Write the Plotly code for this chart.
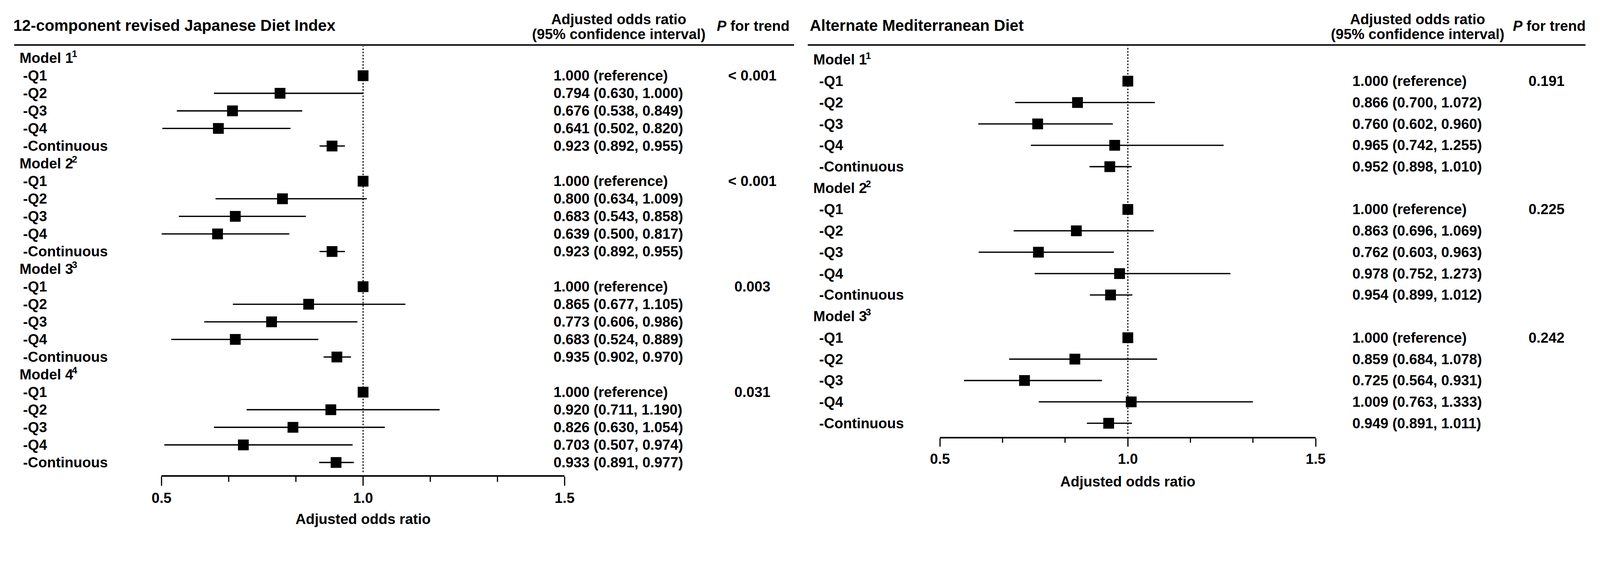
import plotly.graph_objects as go

FONT = "Liberation Sans, Arial, sans-serif"

# ---------------- data ----------------
categories = ["-Q1", "-Q2", "-Q3", "-Q4", "-Continuous"]
jdi_models = ["Model 1", "Model 2", "Model 3", "Model 4"]
med_models = ["Model 1", "Model 2", "Model 3"]
model_notes = ["1", "2", "3", "4"]

jdi_or = [1.000, 0.794, 0.676, 0.641, 0.923,
          1.000, 0.800, 0.683, 0.639, 0.923,
          1.000, 0.865, 0.773, 0.683, 0.935,
          1.000, 0.920, 0.826, 0.703, 0.933]
jdi_lo = [None, 0.630, 0.538, 0.502, 0.892,
          None, 0.634, 0.543, 0.500, 0.892,
          None, 0.677, 0.606, 0.524, 0.902,
          None, 0.711, 0.630, 0.507, 0.891]
jdi_hi = [None, 1.000, 0.849, 0.820, 0.955,
          None, 1.009, 0.858, 0.817, 0.955,
          None, 1.105, 0.986, 0.889, 0.970,
          None, 1.190, 1.054, 0.974, 0.977]
jdi_p = ["< 0.001", "< 0.001", "0.003", "0.031"]

med_or = [1.000, 0.866, 0.760, 0.965, 0.952,
          1.000, 0.863, 0.762, 0.978, 0.954,
          1.000, 0.859, 0.725, 1.009, 0.949]
med_lo = [None, 0.700, 0.602, 0.742, 0.898,
          None, 0.696, 0.603, 0.752, 0.899,
          None, 0.684, 0.564, 0.763, 0.891]
med_hi = [None, 1.072, 0.960, 1.255, 1.010,
          None, 1.069, 0.963, 1.273, 1.012,
          None, 1.078, 0.931, 1.333, 1.011]
med_p = ["0.191", "0.225", "0.242"]

x_ticks = [0.5, 1.0, 1.5]
x_tick_text = ["0.5", "1.0", "1.5"]
x_range = [0.5, 1.5]

# ---------------- geometry ----------------
# The page is photographed with a device scale of 4379/4096 and an 8px body margin;
# geometry below is measured in picture pixels and converted to CSS pixels.
S = 4379 / 4096
FW, FH = 4088, 1341


def cx(P):
    return (P / S - 8) / FW


def cy(P):
    return 1 - (P / S - 8) / FH


def sz(v):
    return v / S


panels = [
    dict(title="12-component revised Japanese Diet Index", models=jdi_models,
         orv=jdi_or, lo=jdi_lo, hi=jdi_hi, p=jdi_p, xa="x", ya="y",
         title_x=8, line_x0=11, line_x1=2173, model_x=25, cat_x=35,
         val_x=1505, hdr_x=1687, p_x=2057, ptitle_x=2060,
         dom_x0=419.5, dom_x1=1537, top=123, bottom=1300,
         row0=159, rowstep=48.1, ticklen=24.5, minorlen=14),
    dict(title="Alternate Mediterranean Diet", models=med_models,
         orv=med_or, lo=med_lo, hi=med_hi, p=med_p, xa="x2", ya="y2",
         title_x=2215, line_x0=2211, line_x1=4367, model_x=2225, cat_x=2241,
         val_x=3719, hdr_x=3901, p_x=4259, ptitle_x=4266,
         dom_x0=2577.5, dom_x1=3619, top=123, bottom=1195,
         row0=163.5, rowstep=58.5, ticklen=23, minorlen=12),
]

FS = sz(39.4)
TFS = sz(43)
SUPFS = sz(26.5)
fig = go.Figure()
annotations = []
shapes = []


def tfont(size=FS):
    return dict(size=size, color="black", family=FONT, weight="bold")


def ann(text, x, y, yr="paper", xanchor="left", size=FS, yshift=0):
    annotations.append(dict(text=text, x=x, y=y, xref="paper", yref=yr,
                            xanchor=xanchor, yanchor="middle", showarrow=False,
                            yshift=yshift, borderpad=0, font=tfont(size)))


for k, pn in enumerate(panels):
    rows_y, ors, ci_x, ci_y = [], [], [], []
    n_models = len(pn["models"])
    for m in range(n_models):
        for j in range(len(categories)):
            idx = m * len(categories) + j
            row = m * (len(categories) + 1) + 1 + j
            rows_y.append(row)
            ors.append(pn["orv"][idx])
            if pn["lo"][idx] is not None:
                ci_x += [pn["lo"][idx], pn["hi"][idx], None]
                ci_y += [row, row, None]

    fig.add_trace(go.Scatter(x=ci_x, y=ci_y, mode="lines",
                             line=dict(color="black", width=sz(3.6)),
                             xaxis=pn["xa"], yaxis=pn["ya"], cliponaxis=False,
                             showlegend=False, hoverinfo="skip"))
    fig.add_trace(go.Scatter(x=ors, y=rows_y, mode="markers",
                             marker=dict(symbol="square", size=sz(29.5), color="black",
                                         line=dict(width=0)),
                             xaxis=pn["xa"], yaxis=pn["ya"], cliponaxis=False,
                             showlegend=False))

    suffix = "" if k == 0 else "2"
    yrange = [(pn["bottom"] - pn["row0"]) / pn["rowstep"],
              (pn["top"] - pn["row0"]) / pn["rowstep"]]
    fig.update_layout(**{
        "xaxis" + suffix: dict(
            domain=[cx(pn["dom_x0"]), cx(pn["dom_x1"])], range=x_range,
            anchor="y" + suffix, showline=True, linecolor="black", linewidth=sz(4),
            ticks="outside", ticklen=sz(pn["ticklen"]), tickwidth=sz(3), tickcolor="black",
            tickvals=x_ticks, ticktext=x_tick_text, showgrid=False, zeroline=False,
            tickfont=tfont(),
            minor=dict(ticks="outside", ticklen=sz(pn["minorlen"]), tickwidth=sz(3),
                       tickcolor="black", tick0=0.5, dtick=1 / 6, showgrid=False),
            title=dict(text="Adjusted odds ratio", standoff=26, font=tfont()),
            fixedrange=True),
        "yaxis" + suffix: dict(
            domain=[cy(pn["bottom"]), cy(pn["top"])], range=yrange,
            anchor="x" + suffix, visible=False, fixedrange=True),
    })

    yref = pn["ya"]
    shapes.append(dict(type="line", xref=pn["xa"], yref=yref + " domain",
                       x0=1.0, x1=1.0, y0=0.007, y1=0.997, layer="below",
                       line=dict(color="black", width=sz(3), dash="4px,4px")))
    shapes.append(dict(type="line", xref="paper", yref="paper",
                       x0=cx(pn["line_x0"]), x1=cx(pn["line_x1"]),
                       y0=cy(pn["top"]), y1=cy(pn["top"]),
                       line=dict(color="black", width=sz(4))))

    ann(pn["title"], cx(pn["title_x"]), cy(70), size=TFS)
    ann("Adjusted odds ratio", cx(pn["hdr_x"]), cy(53), xanchor="center")
    ann("(95% confidence interval)", cx(pn["hdr_x"]), cy(94), xanchor="center")
    ann("<i>P</i> for trend", cx(pn["ptitle_x"]), cy(71), xanchor="center")

    for m in range(n_models):
        base = m * (len(categories) + 1)
        ann(pn["models"][m], cx(pn["model_x"]), base, yr=yref)
        ann(model_notes[m], cx(pn["model_x"] + 145), base, yr=yref,
            size=SUPFS, yshift=sz(11.5))
        ann(pn["p"][m], cx(pn["p_x"]), base + 1, yr=yref, xanchor="center")
        for j, cat in enumerate(categories):
            idx = m * len(categories) + j
            row = base + 1 + j
            ann(cat, cx(pn["cat_x"]), row, yr=yref)
            if pn["lo"][idx] is None:
                txt = "%.3f (reference)" % pn["orv"][idx]
            else:
                txt = "%.3f (%.3f, %.3f)" % (pn["orv"][idx], pn["lo"][idx], pn["hi"][idx])
            ann(txt, cx(pn["val_x"]), row, yr=yref)

fig.update_layout(width=FW, height=FH, margin=dict(l=0, r=0, t=0, b=0),
                  paper_bgcolor="white", plot_bgcolor="white",
                  font=tfont(), annotations=annotations, shapes=shapes,
                  showlegend=False)

fig.write_html("out.html")
